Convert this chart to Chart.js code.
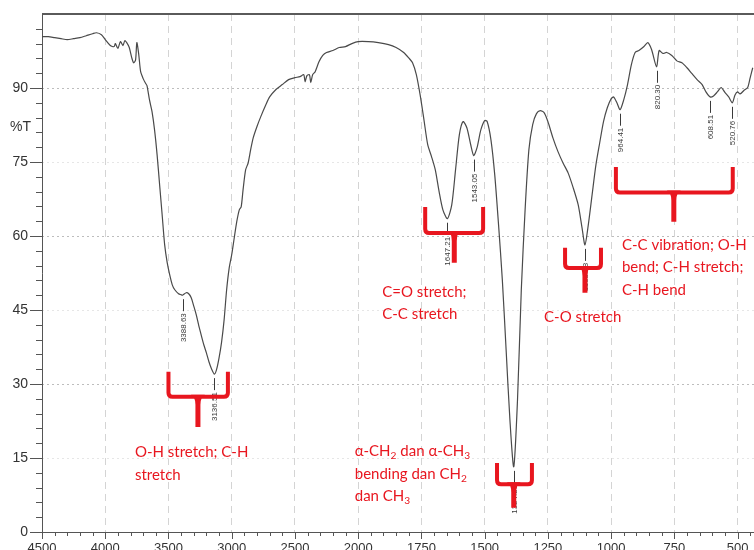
<!DOCTYPE html>
<html>
<head>
<meta charset="utf-8">
<script src="https://cdn.jsdelivr.net/npm/chart.js@4/dist/chart.umd.min.js"></script>
<style>
  html, body { margin: 0; padding: 0; background: #fff; }
  #wrap { width: 754px; height: 550px; }
</style>
</head>
<body>
<div id="wrap"><canvas id="ir-chart" width="754" height="550"></canvas></div>
<script>
// FTIR spectrum, wavenumber (cm-1) vs transmittance (%T)
const wavenumbers = [
  4500, 4450, 4400, 4350, 4300, 4250, 4200, 4150, 4100, 4070, 4030, 4000,
  3960, 3930, 3920, 3900, 3880, 3860, 3845, 3830, 3810, 3790, 3775, 3760,
  3750, 3735, 3720, 3700, 3680, 3670, 3650, 3630, 3610, 3590, 3570, 3550,
  3530, 3510, 3490, 3470, 3450, 3420, 3400, 3388.63, 3360, 3340, 3320, 3300,
  3280, 3260, 3240, 3220, 3200, 3180, 3160, 3136.51, 3120, 3100, 3080, 3060,
  3040, 3020, 3000, 2980, 2960, 2940, 2925, 2910, 2890, 2870, 2850, 2830,
  2800, 2770, 2730, 2700, 2650, 2600, 2550, 2500, 2460, 2430, 2420, 2405,
  2385, 2375, 2360, 2340, 2310, 2280, 2250, 2200, 2150, 2100, 2050, 2000,
  1960, 1920, 1880, 1850, 1820, 1800, 1785, 1770, 1755, 1740, 1725, 1710,
  1695, 1680, 1665, 1647.21, 1630, 1615, 1600, 1585, 1570, 1555, 1543.05, 1530,
  1515, 1500, 1490, 1475, 1460, 1445, 1430, 1415, 1400, 1384.89, 1370, 1355,
  1340, 1325, 1310, 1295, 1280, 1265, 1250, 1230, 1210, 1190, 1170, 1150,
  1130, 1115, 1103.28, 1090, 1075, 1060, 1045, 1030, 1015, 1000, 990, 977,
  964.41, 950, 935, 920, 905, 890, 870, 855, 840, 820.3, 810, 795,
  780, 760, 740, 720, 700, 680, 660, 640, 625, 608.51, 595, 580,
  565, 550, 535, 520.76, 510, 500, 490, 475, 460, 450, 440
];
const transmittance = [
  100.4, 100.4, 100.2, 100.0, 99.8, 100.0, 100.2, 100.6, 101.0, 101.2, 100.8, 99.8,
  98.6, 98.4, 99.0, 98.0, 99.4, 98.6, 99.6, 99.2, 98.2, 96.1, 95.1, 95.7,
  99.2, 96.8, 93.3, 91.9, 90.9, 90.5, 87.6, 85.2, 81.5, 76.5, 70.4, 64.3,
  58.2, 54.6, 52.1, 50.1, 49.1, 48.3, 48.1, 48.0, 48.5, 48.3, 47.5, 45.8,
  44.0, 41.8, 39.8, 37.9, 36.3, 34.5, 33.1, 32.0, 32.9, 35.3, 38.5, 43.0,
  49.1, 53.5, 56.2, 59.6, 62.9, 65.3, 65.9, 69.4, 73.4, 74.8, 77.5, 79.9,
  82.2, 84.2, 86.6, 88.2, 89.7, 90.7, 91.7, 92.1, 92.3, 92.7, 91.3, 92.5,
  92.7, 91.1, 92.7, 93.3, 95.3, 96.6, 97.2, 97.6, 98.2, 98.4, 99.0, 99.4,
  99.4, 99.2, 98.8, 98.2, 97.2, 96.1, 95.1, 92.7, 88.6, 83.6, 78.5, 76.1,
  73.4, 69.0, 65.3, 63.5, 66.3, 73.4, 80.5, 83.2, 81.9, 78.5, 76.3, 77.9,
  81.5, 83.4, 83.2, 79.5, 72.4, 62.3, 51.1, 36.9, 22.7, 13.2, 26.8, 49.1,
  65.3, 77.5, 82.6, 84.8, 85.4, 85.0, 83.2, 79.9, 77.1, 74.8, 72.8, 69.8,
  66.3, 61.7, 58.2, 62.3, 68.4, 74.4, 78.9, 83.2, 86.0, 87.8, 88.2, 87.0,
  85.6, 87.6, 90.7, 94.7, 97.2, 97.6, 98.4, 99.2, 97.8, 94.3, 97.6, 97.0,
  97.2, 96.6, 95.5, 95.1, 94.1, 92.9, 91.7, 90.7, 89.2, 88.2, 88.4, 89.2,
  90.1, 89.1, 88.2, 87.0, 88.6, 89.2, 88.8, 89.5, 90.1, 92.1, 94.1
];

// axis ticks: the scale is stretched x2 below 2000 cm-1
const wavenumberTicks = [4500, 4000, 3500, 3000, 2500, 2000, 1750, 1500, 1250, 1000, 750, 500];
const transmittanceTicks = [0, 15, 30, 45, 60, 75, 90];
const rangeEnd = 435;

// labelled peaks
const peakWavenumbers = [3388.63, 3136.51, 1647.21, 1543.05, 1384.89, 1103.28, 964.41, 820.3, 608.51, 520.76];

// band assignments
const bandTexts = [
  ['O-H stretch; C-H', 'stretch'],
  ['C=O stretch;', 'C-C stretch'],
  ['α-CH_2 dan α-CH_3', 'bending dan CH_2', 'dan CH_3'],
  ['C-O stretch'],
  ['C-C vibration; O-H', 'bend; C-H stretch;', 'C-H bend']
];

// brace placement in data units: [left, right, stem] wavenumbers, [top, bar, end] %T, text anchor
const bandLayout = [
  { span: [3500, 3030, 3267], level: [32.5, 27.4, 21.3], text: [3765, 15.2] },
  { span: [1735, 1506, 1620], level: [65.9, 60.6, 54.6], text: [1905, 47.7] },
  { span: [1451, 1313, 1384.89], level: [14.0, 9.7, 4.9], text: [2027, 15.4] },
  { span: [1182, 1040, 1103.28], level: [57.6, 53.5, 48.5], text: [1265, 42.6] },
  { span: [981, 519, 752], level: [74.0, 68.8, 62.9], text: [957, 57.2] }
];

const RED = '#e8161f';
const INK = '#333';

// piecewise position along the x axis, one unit per labelled tick
const toAxis = (w) => {
  const t = wavenumberTicks;
  for (let i = 0; i < t.length - 1; i++) {
    if (w >= t[i + 1]) return i + (t[i] - w) / (t[i] - t[i + 1]);
  }
  const n = t.length - 1;
  return n + (t[n] - w) / (t[n - 1] - t[n]);
};

const axisDecor = {
  id: 'axisDecor',
  beforeDatasetsDraw(chart) {
    const { ctx, chartArea: a, scales: { x, y } } = chart;
    ctx.save();
    // frame
    ctx.strokeStyle = '#5a5a5a';
    ctx.lineWidth = 2;
    ctx.beginPath();
    ctx.moveTo(a.left, a.top);
    ctx.lineTo(a.right, a.top);
    ctx.stroke();
    ctx.strokeStyle = '#555';
    ctx.lineWidth = 1;
    ctx.beginPath();
    ctx.moveTo(a.left + 0.5, a.top);
    ctx.lineTo(a.left + 0.5, a.bottom + 0.5);
    ctx.lineTo(a.right, a.bottom + 0.5);
    // y ticks every 3 %T, long ones on the labels
    for (let v = 0; v <= 102; v += 3) {
      const py = Math.round(y.getPixelForValue(v)) + 0.5;
      const len = v % 15 === 0 ? 12 : 6;
      ctx.moveTo(a.left - len, py);
      ctx.lineTo(a.left, py);
    }
    // x ticks, five per labelled interval
    for (let k = 0; k <= Math.floor(x.max * 5); k++) {
      const px = Math.round(x.getPixelForValue(k / 5)) + 0.5;
      const len = k % 5 === 0 ? 7 : 4;
      ctx.moveTo(px, a.bottom);
      ctx.lineTo(px, a.bottom + len);
    }
    ctx.stroke();
    ctx.fillStyle = INK;
    ctx.font = '14px "Liberation Sans", Arial, sans-serif';
    ctx.textAlign = 'left';
    ctx.textBaseline = 'middle';
    ctx.fillText('%T', 10, y.getPixelForValue(82));
    ctx.restore();
  }
};

function drawRich(ctx, str, x, y, size) {
  // "_n" marks a subscript digit
  let cx = x;
  for (const part of str.split(/(_\d)/)) {
    if (!part) continue;
    if (part[0] === '_') {
      ctx.font = `${size * 0.68}px Lato, sans-serif`;
      ctx.fillText(part[1], cx, y + size * 0.22);
      cx += ctx.measureText(part[1]).width;
    } else {
      ctx.font = `${size}px Lato, sans-serif`;
      ctx.fillText(part, cx, y);
      cx += ctx.measureText(part).width;
    }
  }
}

function drawBrace(ctx, xl, xr, xc, yTop, yBar, yEnd) {
  const r = 4;
  ctx.lineWidth = 4;
  ctx.lineJoin = 'round';
  ctx.beginPath();
  ctx.moveTo(xl, yTop);
  ctx.lineTo(xl, yBar - r);
  ctx.quadraticCurveTo(xl, yBar, xl + r, yBar);
  ctx.lineTo(xr - r, yBar);
  ctx.quadraticCurveTo(xr, yBar, xr, yBar - r);
  ctx.lineTo(xr, yTop);
  ctx.stroke();
  ctx.beginPath();
  ctx.moveTo(xc - 7, yBar - 2);
  ctx.quadraticCurveTo(xc - 2.5, yBar, xc - 2.5, yBar + 8);
  ctx.lineTo(xc - 2.5, yEnd);
  ctx.lineTo(xc + 2.5, yEnd);
  ctx.lineTo(xc + 2.5, yBar + 8);
  ctx.quadraticCurveTo(xc + 2.5, yBar, xc + 7, yBar - 2);
  ctx.closePath();
  ctx.fill();
}

const annotations = {
  id: 'annotations',
  afterDatasetsDraw(chart) {
    const { ctx, scales: { x, y } } = chart;
    ctx.save();

    // peak position labels, vertical, hanging under each band
    ctx.font = '8px "Liberation Sans", Arial, sans-serif';
    ctx.fillStyle = '#3a3a3a';
    ctx.strokeStyle = '#3a3a3a';
    ctx.lineWidth = 1;
    peakWavenumbers.forEach((w) => {
      const t = transmittance[wavenumbers.indexOf(w)];
      const px = Math.round(x.getPixelForValue(toAxis(w))) + 0.5;
      const py = y.getPixelForValue(t);
      const label = w.toFixed(2);
      const lineStart = py + 4;
      const lineEnd = lineStart + 12;
      ctx.beginPath();
      ctx.moveTo(px, lineStart);
      ctx.lineTo(px, lineEnd);
      ctx.stroke();
      const tw = ctx.measureText(label).width;
      ctx.save();
      ctx.translate(px, lineEnd + 2 + tw);
      ctx.rotate(-Math.PI / 2);
      ctx.textAlign = 'left';
      ctx.textBaseline = 'middle';
      ctx.fillText(label, 0, 0);
      ctx.restore();
    });

    // band braces and assignments
    ctx.fillStyle = RED;
    ctx.strokeStyle = RED;
    bandLayout.forEach((b, i) => {
      const [wl, wr, wc] = b.span.map((w) => x.getPixelForValue(toAxis(w)));
      const [yt, yb, ye] = b.level.map((v) => y.getPixelForValue(v));
      drawBrace(ctx, wl, wr, wc, yt, yb, ye);
      const tx = x.getPixelForValue(toAxis(b.text[0]));
      const ty = y.getPixelForValue(b.text[1]);
      ctx.textAlign = 'left';
      ctx.textBaseline = 'alphabetic';
      bandTexts[i].forEach((line, j) => drawRich(ctx, line, tx, ty + j * 22.5, 15));
    });
    ctx.restore();
  }
};

const points = wavenumbers.map((w, i) => ({ x: toAxis(w), y: transmittance[i] }));

new Chart(document.getElementById('ir-chart'), {
  type: 'line',
  data: {
    datasets: [{
      data: points,
      borderColor: '#4a4a4a',
      borderWidth: 1.2,
      pointRadius: 0,
      tension: 0.25,
      fill: false
    }]
  },
  options: {
    responsive: false,
    animation: false,
    devicePixelRatio: 1,
    layout: { padding: { top: 14, right: 0, left: 0, bottom: 0 } },
    plugins: { legend: { display: false }, tooltip: { enabled: false } },
    scales: {
      x: {
        type: 'linear',
        min: 0,
        max: toAxis(rangeEnd),
        afterFit: (s) => {
          s.height = 18;
          s.paddingLeft = 0;
          s.paddingRight = 0;
        },
        afterBuildTicks: (s) => { s.ticks = wavenumberTicks.map((w, i) => ({ value: i })); },
        ticks: {
          autoSkip: false,
          maxRotation: 0,
          padding: 9,
          color: INK,
          font: { family: '"Liberation Sans", Arial, sans-serif', size: 13 },
          callback: (v) => String(wavenumberTicks[Math.round(v)])
        },
        grid: {
          drawTicks: false,
          lineWidth: 1,
          color: (c) => (c.tick && c.tick.value > 0 ? '#d4d4d4' : 'transparent')
        },
        border: { display: false, dash: [7, 5] }
      },
      y: {
        min: 0,
        max: 105,
        afterFit: (s) => {
          s.width = 42;
          s.paddingTop = 0;
          s.paddingBottom = 0;
        },
        afterBuildTicks: (s) => { s.ticks = transmittanceTicks.map((v) => ({ value: v })); },
        ticks: {
          padding: 14,
          color: INK,
          font: { family: '"Liberation Sans", Arial, sans-serif', size: 14 }
        },
        grid: {
          drawTicks: false,
          lineWidth: 1,
          color: (c) => {
            const v = c.tick ? c.tick.value : 0;
            if (v === 0) return 'transparent';
            return v % 30 === 0 ? '#bdbdbd' : '#e6e6e6';
          }
        },
        border: { display: false, dash: [2, 3] }
      }
    }
  },
  plugins: [axisDecor, annotations]
});
</script>
</body>
</html>
